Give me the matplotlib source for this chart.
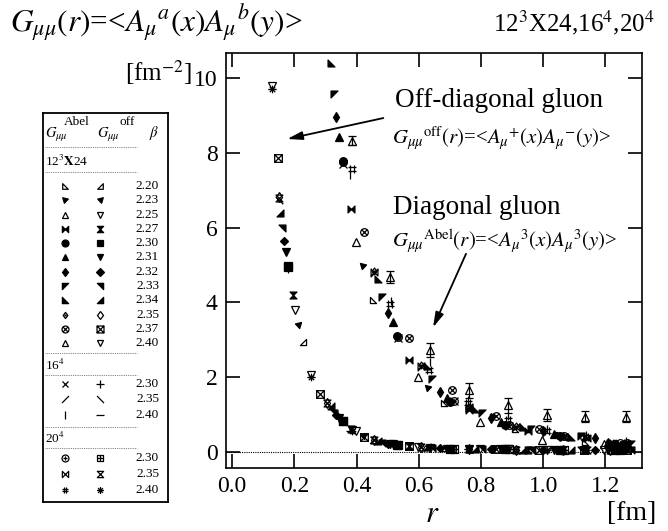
import numpy as np
import matplotlib
matplotlib.use("Agg")
import matplotlib.pyplot as plt
from matplotlib.path import Path

plt.rcParams["font.family"] = ["Liberation Serif", "DejaVu Serif"]
plt.rcParams["mathtext.fontset"] = "stix"

nan = np.nan

# ---- 12^3 x 24 lattice: r [fm], Abelian and off-diagonal propagators ----
betas_12 = ["2.20", "2.23", "2.25", "2.27", "2.30", "2.31", "2.32", "2.33", "2.34", "2.35", "2.37", "2.40"]
r_12 = [
    [0.227, 0.454, 0.681, 0.908, 1.135],
    [0.210, 0.420, 0.630, 0.840, 1.050, 1.260],
    [0.203, 0.398, 0.599, 0.797, 0.996, 1.196],
    [0.195, 0.382, 0.570, 0.760, 0.950, 1.140],
    [0.178, 0.356, 0.530, 0.701, 0.878, 1.055, 1.232],
    [0.174, 0.345, 0.518, 0.690, 0.863, 1.036, 1.209],
    [0.167, 0.333, 0.500, 0.667, 0.833, 1.000, 1.167],
    [0.160, 0.326, 0.481, 0.642, 0.802, 0.962, 1.122, 1.283],
    [0.154, 0.318, 0.470, 0.625, 0.780, 0.935, 1.090, 1.245],
    [0.152, 0.304, 0.456, 0.608, 0.760, 0.912, 1.064, 1.216],
    [0.146, 0.283, 0.424, 0.567, 0.706, 0.847, 0.988, 1.130, 1.271],
    [0.127, 0.253, 0.385, 0.508, 0.637, 0.763, 0.886, 1.012, 1.135, 1.267],
]
abel_12 = [
    [nan, 4.07, 1.31, 0.62, 0.27],
    [nan, 4.96, 1.72, 0.93, 0.45, 0.22],
    [nan, 5.61, 2.01, 0.81, 0.32, 0.21],
    [nan, 6.50, 2.47, 1.12, 0.56, 0.36],
    [nan, 7.79, 3.09, 1.34, 0.72, 0.42, 0.22],
    [nan, 8.43, 3.47, 1.45, 0.80, 0.47, 0.26],
    [nan, 8.96, 3.72, 1.60, 0.92, 0.55, 0.38],
    [nan, 9.58, 4.14, 1.96, 1.03, 0.60, 0.42, 0.22],
    [nan, 10.41, 4.63, 2.30, 1.15, 0.66, 0.41, 0.24],
    [nan, nan, 4.85, 2.32, 1.20, 0.68, 0.42, 0.24],
    [nan, nan, 5.88, 3.06, 1.65, 0.95, 0.60, 0.40, 0.24],
    [nan, nan, 8.32, 4.68, 2.72, 1.65, 1.25, 0.99, 0.94, 0.94],
]
off_12 = [
    [2.94, 0.31, 0.10, 0.07, 0.06],
    [3.39, 0.43, 0.12, 0.08, 0.06, 0.05],
    [3.80, 0.55, 0.13, 0.08, 0.06, 0.05],
    [4.21, 0.60, 0.15, 0.08, 0.06, 0.05],
    [4.96, 0.84, 0.19, 0.09, 0.07, 0.06, 0.05],
    [5.34, 0.90, 0.20, 0.09, 0.07, 0.06, 0.05],
    [5.65, 0.99, 0.22, 0.10, 0.07, 0.06, 0.05],
    [5.99, 1.05, 0.25, 0.11, 0.08, 0.06, 0.05, 0.05],
    [6.39, 1.22, 0.29, 0.12, 0.08, 0.06, 0.05, 0.05],
    [6.81, 1.30, 0.31, 0.13, 0.08, 0.06, 0.05, 0.05],
    [7.85, 1.55, 0.40, 0.15, 0.09, 0.07, 0.06, 0.05, 0.05],
    [9.80, 2.05, 0.58, 0.21, 0.11, 0.08, 0.07, 0.06, 0.05, 0.05],
]
abel_err_12_240 = [0, 0, 0.12, 0.15, 0.18, 0.20, 0.20, 0.15, 0.15, 0.15]

# ---- 16^4 lattice ----
betas_16 = ["2.30", "2.35", "2.40"]
r_16 = [
    [0.178, 0.356, 0.534, 0.712, 0.890, 1.068, 1.246],
    [0.152, 0.304, 0.456, 0.608, 0.760, 0.912, 1.064, 1.216],
    [0.127, 0.253, 0.380, 0.510, 0.637, 0.759, 0.886, 1.012, 1.139, 1.265],
]
abel_16 = [
    [nan, 7.70, 3.05, 1.35, 0.70, 0.40, 0.20],
    [nan, nan, 4.78, 2.28, 1.18, 0.66, 0.40, 0.22],
    [nan, nan, 7.40, 4.05, 2.41, 1.40, 0.95, 0.60, 0.45, 0.30],
]
off_16 = [
    [4.90, 0.82, 0.18, 0.09, 0.07, 0.06, 0.05],
    [6.75, 1.32, 0.32, 0.13, 0.08, 0.06, 0.05, 0.05],
    [9.70, 2.00, 0.56, 0.21, 0.11, 0.08, 0.07, 0.06, 0.05, 0.05],
]

# ---- 20^4 lattice ----
betas_20 = ["2.30", "2.35", "2.40"]
r_20 = [
    [0.178, 0.356, 0.534, 0.712, 0.890, 1.068, 1.246],
    [0.152, 0.304, 0.456, 0.608, 0.760, 0.912, 1.064, 1.216],
    [0.128, 0.254, 0.385, 0.506, 0.633, 0.759, 0.886, 1.012, 1.139, 1.265],
]
abel_20 = [
    [nan, 7.75, 3.08, 1.36, 0.71, 0.42, 0.25],
    [nan, nan, 4.80, 2.30, 1.19, 0.67, 0.41, 0.23],
    [nan, nan, 7.56, 3.96, 2.20, 1.30, 0.85, 0.55, 0.40, 0.25],
]
off_20 = [
    [4.95, 0.83, 0.18, 0.09, 0.07, 0.06, 0.05],
    [6.80, 1.31, 0.31, 0.13, 0.08, 0.06, 0.05, 0.05],
    [9.70, 2.01, 0.57, 0.21, 0.11, 0.08, 0.07, 0.06, 0.05, 0.05],
]


# ---- marker shapes ----
def poly(pts):
    verts = pts + [pts[0]]
    codes = [Path.MOVETO] + [Path.LINETO] * (len(pts) - 1) + [Path.CLOSEPOLY]
    return Path(verts, codes)


def segs(*lines):
    verts, codes = [], []
    for x0, y0, x1, y1 in lines:
        verts += [(x0, y0), (x1, y1)]
        codes += [Path.MOVETO, Path.LINETO]
    return Path(verts, codes)


circle = Path.unit_circle()
square = poly([(-1, -1), (1, -1), (1, 1), (-1, 1)])
diamond = poly([(0, -1), (0.75, 0), (0, 1), (-0.75, 0)])
xlines = segs((-0.7, -0.7, 0.7, 0.7), (-0.7, 0.7, 0.7, -0.7))
plines = segs((-1, 0, 1, 0), (0, -1, 0, 1))
xsq = segs((-1, -1, 1, 1), (-1, 1, 1, -1))

M = {
    "tri_ll": poly([(-1, -1), (1, -1), (-1, 1)]),
    "tri_lr": poly([(1, -1), (-1, -1), (1, 1)]),
    "tri_ul": poly([(-1, 1), (1, 1), (-1, -1)]),
    "tri_ur": poly([(1, 1), (-1, 1), (1, -1)]),
    "flag_l": poly([(-1, 1), (1, 0.5), (-0.4, -1)]),
    "flag_r": poly([(1, 1), (-1, 0.5), (0.4, -1)]),
    "bowtie": poly([(-1, -1), (-1, 1), (1, -1), (1, 1)]),
    "hour": poly([(-1, 1), (1, 1), (-1, -1), (1, -1)]),
    "circ_x": Path.make_compound_path(circle, xlines),
    "sq_x": Path.make_compound_path(square, xsq),
    "circ_p": Path.make_compound_path(circle, segs((-0.6, 0, 0.6, 0), (0, -0.6, 0, 0.6))),
    "sq_p": Path.make_compound_path(square, plines),
    "dia_dot": Path.make_compound_path(diamond, poly([(-0.12, -0.12), (0.12, -0.12), (0.12, 0.12), (-0.12, 0.12)])),
    "slash": segs((-1, -1, 1, 1)),
    "bslash": segs((-1, 1, 1, -1)),
    "hash": segs((-0.4, -1, -0.4, 1), (0.4, -1, 0.4, 1), (-1, -0.4, 1, -0.4), (-1, 0.4, 1, 0.4)),
    "aster": segs((-1, 0, 1, 0), (0, -1, 0, 1), (-0.7, -0.7, 0.7, 0.7), (-0.7, 0.7, 0.7, -0.7)),
}

# (marker, filled, relative size) for Abel / off, per beta
sty_12 = [
    ((M["tri_ll"], False, 0.8), (M["tri_lr"], False, 0.8)),
    ((M["flag_l"], True, 0.8), (M["flag_r"], True, 0.8)),
    (("^", False, 1.0), ("v", False, 1.0)),
    ((M["bowtie"], True, 0.9), (M["hour"], True, 0.9)),
    (("o", True, 1.0), ("s", True, 1.0)),
    (("^", True, 1.0), ("v", True, 1.0)),
    (("d", True, 0.9), ("D", True, 0.8)),
    ((M["tri_ul"], True, 0.9), (M["tri_ur"], True, 0.9)),
    ((M["tri_ll"], True, 0.9), (M["tri_lr"], True, 0.9)),
    ((M["dia_dot"], False, 0.9), ("d", False, 0.9)),
    ((M["circ_x"], False, 1.0), (M["sq_x"], False, 1.0)),
    (("^", False, 1.0), ("v", False, 1.0)),
]
sty_16 = [
    (("x", False, 1.0), ("+", False, 1.1)),
    ((M["slash"], False, 1.0), (M["bslash"], False, 1.0)),
    (("|", False, 1.1), ("_", False, 1.1)),
]
sty_20 = [
    ((M["circ_p"], False, 1.0), (M["sq_p"], False, 1.0)),
    ((M["bowtie"], False, 0.9), (M["hour"], False, 0.9)),
    ((M["hash"], False, 1.0), (M["aster"], False, 1.0)),
]


def draw(ax, x, y, st, ms, yerr=None):
    marker, filled, scale = st
    kw = dict(ls="none", marker=marker, ms=ms * scale, mec="k",
              mfc="k" if filled else "none", mew=0.9, color="k")
    if yerr is None:
        ax.plot(x, y, **kw)
    else:
        ax.errorbar(x, y, yerr=yerr, capsize=3, elinewidth=0.9, capthick=0.9, **kw)


W, H = 668, 531
fig = plt.figure(figsize=(W / 100, H / 100), dpi=100)
ax = fig.add_axes([226 / W, 1 - 468 / H, 416 / W, 415 / H])

ms = 5.5
for i in range(len(betas_12)):
    err = abel_err_12_240 if betas_12[i] == "2.40" else None
    draw(ax, r_12[i], abel_12[i], sty_12[i][0], ms, err)
    draw(ax, r_12[i], off_12[i], sty_12[i][1], ms)
for rr, ab, of, st in zip(r_16, abel_16, off_16, sty_16):
    draw(ax, rr, ab, st[0], ms)
    draw(ax, rr, of, st[1], ms)
for rr, ab, of, st in zip(r_20, abel_20, off_20, sty_20):
    draw(ax, rr, ab, st[0], ms)
    draw(ax, rr, of, st[1], ms)

ax.axhline(0, ls=(0, (1, 1)), lw=0.8, color="k", zorder=0)
ax.set_xlim(-0.02, 1.318)
ax.set_ylim(-0.43, 10.67)
ax.set_xticks(np.arange(0, 1.21, 0.2))
ax.set_xticklabels(["0.0", "0.2", "0.4", "0.6", "0.8", "1.0", "1.2"])
ax.set_yticks([0, 2, 4, 6, 8, 10])
ax.tick_params(direction="in", length=10, width=1.2, top=True, right=True, labelsize=17)
ax.tick_params(axis="x", pad=6)
ax.tick_params(axis="y", pad=6)
for s in ax.spines.values():
    s.set_linewidth(1.2)

# annotations
ax.text(0.524, 9.39, "Off-diagonal gluon", fontsize=19.5, va="center", ha="left")
ax.text(0.515, 8.40, r"$G_{\mu\mu}{}^{\rm off}(r)$=<$A_{\mu}{}^{+}(x)A_{\mu}{}^{-}(y)$>",
        fontsize=15, va="center", ha="left")
ax.text(0.518, 6.53, "Diagonal gluon", fontsize=19.5, va="center", ha="left")
ax.text(0.515, 5.65, r"$G_{\mu\mu}{}^{\rm Abel}(r)$=<$A_{\mu}{}^{3}(x)A_{\mu}{}^{3}(y)$>",
        fontsize=15, va="center", ha="left")
arrow = dict(arrowstyle="-|>,head_length=0.9,head_width=0.25", lw=1.3, color="k", shrinkA=0, shrinkB=0)
ax.annotate("", xy=(0.177, 8.37), xytext=(0.486, 8.93), arrowprops=arrow)
ax.annotate("", xy=(0.646, 3.33), xytext=(0.752, 5.30), arrowprops=arrow)

# titles and axis labels
fig.text(10 / W, 1 - 23 / H, r"$G_{\mu\mu}(r)$=<$A_{\mu}{}^{a}(x)A_{\mu}{}^{b}(y)$>",
         fontsize=22.5, va="center", ha="left")
fig.text(655 / W, 1 - 23 / H, r"12$^{3}$X24,16$^{4}$,20$^{4}$", fontsize=18, va="center", ha="right")
fig.text(192 / W, 1 - 73 / H, r"[fm$^{-2}$]", fontsize=18, va="center", ha="right")
fig.text(432 / W, 1 - 514 / H, r"$r$", fontsize=22, va="center", ha="center")
fig.text(656 / W, 1 - 514 / H, "[fm]", fontsize=20, va="center", ha="right")

# ---- hand-made legend box ----
lax = fig.add_axes([43 / W, 1 - 502 / H, 125 / W, 389 / H])
lax.set_xlim(43, 168)
lax.set_ylim(502, 113)
lax.set_xticks([])
lax.set_yticks([])
for s in lax.spines.values():
    s.set_linewidth(1.3)

fs = 9.5
xa, xo, xb = 65, 100, 159
lax.text(77, 122, "Abel", fontsize=fs, ha="center", va="center")
lax.text(127, 122, "off", fontsize=fs, ha="center", va="center")
lax.text(45, 135, r"$G_{\mu\mu}$", fontsize=fs + 1, ha="left", va="center")
lax.text(97, 135, r"$G_{\mu\mu}$", fontsize=fs + 1, ha="left", va="center")
lax.text(xb, 133, r"$\beta$", fontsize=fs + 1, ha="right", va="center")


def sep(y):
    lax.plot([45, 137], [y, y], ls=(0, (1, 1.2)), lw=0.6, color="0.35")


sep(147)
lax.text(45, 161, r"12$^{3}$$\mathbf{X}$24", fontsize=fs, ha="left", va="center")
sep(172)
lms = 5.0
rows_12 = [186 + 14.3 * i for i in range(12)]
for y, b, st in zip(rows_12, betas_12, sty_12):
    draw(lax, [xa], [y], st[0], lms)
    draw(lax, [xo], [y], st[1], lms)
    lax.text(xb, y, b, fontsize=fs, ha="right", va="center")
sep(353)
lax.text(45, 365, r"16$^{4}$", fontsize=fs, ha="left", va="center")
sep(375)
for y, b, st in zip([384, 399, 415], betas_16, sty_16):
    draw(lax, [xa], [y], st[0], lms)
    draw(lax, [xo], [y], st[1], lms)
    lax.text(xb, y, b, fontsize=fs, ha="right", va="center")
sep(427)
lax.text(45, 438, r"20$^{4}$", fontsize=fs, ha="left", va="center")
sep(448)
for y, b, st in zip([458, 474, 490], betas_20, sty_20):
    draw(lax, [xa], [y], st[0], lms)
    draw(lax, [xo], [y], st[1], lms)
    lax.text(xb, y, b, fontsize=fs, ha="right", va="center")

fig.savefig("out.png", dpi=100)
